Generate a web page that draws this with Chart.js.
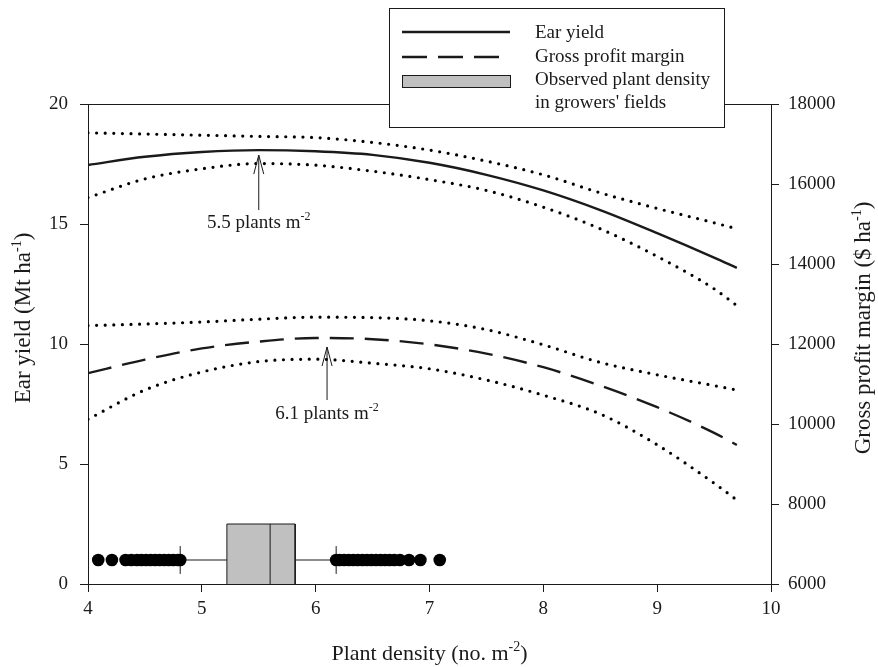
<!DOCTYPE html>
<html>
<head>
<meta charset="utf-8">
<script src="https://cdn.jsdelivr.net/npm/chart.js@4.4.1/dist/chart.umd.min.js"></script>
<style>
  html, body { margin: 0; padding: 0; background: #fff; }
  #wrap { width: 878px; height: 667px; }
</style>
</head>
<body>
<div id="wrap"><canvas id="grafik" width="878" height="667"></canvas></div>
<script>
// data
const density = [4, 4.5, 5, 5.5, 6, 6.5, 7, 7.5, 8, 8.5, 9, 9.5, 9.7];
const earYield = [17.46, 17.8, 18.0, 18.08, 18.03, 17.88, 17.55, 17.05, 16.4, 15.58, 14.62, 13.6, 13.17];
const earYieldUpper = [18.8, 18.75, 18.7, 18.65, 18.6, 18.4, 18.08, 17.62, 17.05, 16.3, 15.65, 15.05, 14.8];
const earYieldLower = [16.1, 16.88, 17.3, 17.52, 17.45, 17.2, 16.85, 16.4, 15.7, 14.8, 13.65, 12.3, 11.6];
const margin = [11270, 11610, 11890, 12060, 12150, 12120, 11990, 11760, 11420, 10960, 10420, 9780, 9475];
const marginUpper = [12460, 12500, 12550, 12620, 12670, 12660, 12580, 12360, 11980, 11540, 11230, 10960, 10850];
const marginLower = [10120, 10850, 11300, 11560, 11620, 11520, 11380, 11100, 10720, 10250, 9480, 8520, 8100];

// observed plant density in growers' fields (box plot)
const boxQ1 = 5.22;
const boxMedian = 5.6;
const boxQ3 = 5.82;
const whiskerLow = 4.81;
const whiskerHigh = 6.18;
const outliersLow = [4.09, 4.21, 4.33, 4.38, 4.43, 4.47, 4.51, 4.55, 4.59, 4.63, 4.67, 4.71, 4.75, 4.79, 4.81];
const outliersHigh = [6.18, 6.21, 6.25, 6.29, 6.33, 6.37, 6.41, 6.45, 6.49, 6.53, 6.57, 6.61, 6.65, 6.69, 6.74, 6.82, 6.92, 7.09];

// optimum densities marked with arrows
const optimumYield = 5.5;
const optimumMargin = 6.1;

const xTicks = [4, 5, 6, 7, 8, 9, 10];
const yTicks = [0, 5, 10, 15, 20];
const y2Ticks = [6000, 8000, 10000, 12000, 14000, 16000, 18000];

// where the box plot sits on the left axis
const boxTop = 2.5;
const whiskerY = 1;
const capHalf = 0.58;

const serif = "'Liberation Serif', 'Times New Roman', serif";
const ink = "#1a1a1a";

const toPoints = (xs, ys) => xs.map((x, i) => ({ x, y: ys[i] }));
const seg = (x1, y1, x2, y2) => [{ x: x1, y: y1 }, { x: x2, y: y2 }];

const solid = { borderColor: ink, borderWidth: 2.4, pointRadius: 0, cubicInterpolationMode: "monotone", fill: false };
const dotted = { borderColor: "#000", borderWidth: 3.2, borderDash: [0, 8.6], borderCapStyle: "round", pointRadius: 0, cubicInterpolationMode: "monotone", fill: false };
const thin = { borderColor: ink, borderWidth: 1, pointRadius: 0, tension: 0, fill: false };

function richText(ctx, parts, x, y, size, align) {
  const supSize = Math.round(size * 0.62);
  let total = 0;
  parts.forEach(([t, sup]) => {
    ctx.font = (sup ? supSize : size) + "px " + serif;
    total += ctx.measureText(t).width;
  });
  let cx = align === "left" ? x : x - total / 2;
  ctx.textAlign = "left";
  ctx.textBaseline = "alphabetic";
  parts.forEach(([t, sup]) => {
    ctx.font = (sup ? supSize : size) + "px " + serif;
    ctx.fillText(t, cx, sup ? y - size * 0.4 : y);
    cx += ctx.measureText(t).width;
  });
}

function arrowUp(ctx, px, tipY, tailY) {
  ctx.beginPath();
  ctx.moveTo(px, tailY);
  ctx.lineTo(px, tipY);
  ctx.moveTo(px - 5, tipY + 19);
  ctx.lineTo(px, tipY);
  ctx.lineTo(px + 5, tipY + 19);
  ctx.stroke();
}

const overlay = {
  id: "overlay",
  afterDraw(chart) {
    const { ctx, chartArea: a, scales } = chart;
    const x = scales.x, y = scales.y, y2 = scales.y2;
    ctx.save();
    ctx.strokeStyle = ink;
    ctx.fillStyle = ink;
    ctx.lineWidth = 1;

    // top frame line
    ctx.beginPath();
    ctx.moveTo(a.left, a.top + 0.5);
    ctx.lineTo(a.right, a.top + 0.5);
    ctx.stroke();

    // arrows to the optima
    const ax1 = x.getPixelForValue(optimumYield);
    const tip1 = y.getPixelForValue(earYield[density.indexOf(optimumYield)]) + 5;
    arrowUp(ctx, ax1, tip1, tip1 + 55);
    richText(ctx, [["5.5 plants m", false], ["-2", true]], ax1, tip1 + 73, 19);

    const ax2 = x.getPixelForValue(optimumMargin);
    const tip2 = y2.getPixelForValue(margin[density.indexOf(6)]) + 9;
    arrowUp(ctx, ax2, tip2, tip2 + 53);
    richText(ctx, [["6.1 plants m", false], ["-2", true]], ax2, tip2 + 72, 19);

    // legend
    ctx.fillStyle = "#fff";
    ctx.fillRect(389, 8, 335, 119);
    ctx.strokeRect(389.5, 8.5, 335, 119);
    ctx.lineWidth = 2.4;
    ctx.beginPath();
    ctx.moveTo(402, 32);
    ctx.lineTo(510, 32);
    ctx.stroke();
    ctx.setLineDash([25, 11]);
    ctx.beginPath();
    ctx.moveTo(402, 57);
    ctx.lineTo(510, 57);
    ctx.stroke();
    ctx.setLineDash([]);
    ctx.lineWidth = 1;
    ctx.fillStyle = "#c0c0c0";
    ctx.fillRect(402, 75, 108, 12);
    ctx.strokeRect(402.5, 75.5, 108, 12);
    ctx.fillStyle = ink;
    ctx.font = "19px " + serif;
    ctx.textAlign = "left";
    ctx.textBaseline = "alphabetic";
    ctx.fillText("Ear yield", 535, 38);
    ctx.fillText("Gross profit margin", 535, 62);
    ctx.fillText("Observed plant density", 535, 85);
    ctx.fillText("in growers' fields", 535, 108);

    // axis titles
    richText(ctx, [["Plant density (no. m", false], ["-2", true], [")", false]], (a.left + a.right) / 2, 660, 22);

    ctx.save();
    ctx.translate(22, 318);
    ctx.rotate(-Math.PI / 2);
    richText(ctx, [["Ear yield (Mt ha", false], ["-1", true], [")", false]], 0, 8, 23);
    ctx.restore();

    ctx.save();
    ctx.translate(862, 328);
    ctx.rotate(-Math.PI / 2);
    richText(ctx, [["Gross profit margin ($ ha", false], ["-1", true], [")", false]], 0, 8, 23);
    ctx.restore();

    ctx.restore();
  }
};

const tickFont = { family: serif, size: 19 };
const axisGrid = { display: true, drawOnChartArea: false, drawTicks: true, tickLength: 8, color: ink, lineWidth: 1 };
const axisBorder = { display: true, color: ink, width: 1 };
const plain = (v) => String(v);

new Chart(document.getElementById("grafik"), {
  type: "line",
  data: {
    datasets: [
      { ...thin, data: seg(whiskerLow, whiskerY, boxQ1, whiskerY), yAxisID: "y", order: 9 },
      { ...thin, data: seg(boxQ3, whiskerY, whiskerHigh, whiskerY), yAxisID: "y", order: 9 },
      { ...thin, data: seg(whiskerLow, whiskerY - capHalf, whiskerLow, whiskerY + capHalf), yAxisID: "y", order: 9 },
      { ...thin, data: seg(whiskerHigh, whiskerY - capHalf, whiskerHigh, whiskerY + capHalf), yAxisID: "y", order: 9 },
      {
        ...thin,
        data: [{ x: boxQ1, y: 0 }, { x: boxQ1, y: boxTop }, { x: boxQ3, y: boxTop }, { x: boxQ3, y: 0 }],
        fill: "origin",
        backgroundColor: "#c0c0c0",
        yAxisID: "y",
        order: 8
      },
      { ...thin, data: seg(boxMedian, 0, boxMedian, boxTop), yAxisID: "y", order: 7 },
      {
        type: "scatter",
        data: outliersLow.concat(outliersHigh).map((v) => ({ x: v, y: whiskerY })),
        pointRadius: 6.3,
        pointBackgroundColor: "#000",
        pointBorderWidth: 0,
        showLine: false,
        yAxisID: "y",
        order: 6
      },
      { ...dotted, data: toPoints(density, earYieldUpper), yAxisID: "y", order: 5 },
      { ...dotted, data: toPoints(density, earYieldLower), yAxisID: "y", order: 5 },
      { ...solid, data: toPoints(density, earYield), yAxisID: "y", order: 4 },
      { ...dotted, data: toPoints(density, marginUpper), yAxisID: "y2", order: 5 },
      { ...dotted, data: toPoints(density, marginLower), yAxisID: "y2", order: 5 },
      { ...solid, borderDash: [24, 11], data: toPoints(density, margin), yAxisID: "y2", order: 4 }
    ]
  },
  options: {
    responsive: false,
    animation: false,
    devicePixelRatio: 1,
    layout: { padding: { top: 104, left: 0, right: 0, bottom: 0 } },
    plugins: { legend: { display: false }, tooltip: { enabled: false } },
    scales: {
      x: {
        type: "linear",
        position: "bottom",
        min: 4,
        max: 10,
        afterBuildTicks: (s) => { s.ticks = xTicks.map((v) => ({ value: v })); },
        ticks: { color: ink, font: tickFont, padding: 6, maxRotation: 0, callback: plain },
        grid: axisGrid,
        border: axisBorder,
        afterFit: (s) => { s.height = 83; }
      },
      y: {
        position: "left",
        min: 0,
        max: 20,
        afterBuildTicks: (s) => { s.ticks = yTicks.map((v) => ({ value: v })); },
        ticks: { color: ink, font: tickFont, padding: 12, callback: plain },
        grid: axisGrid,
        border: axisBorder,
        afterFit: (s) => { s.width = 88; }
      },
      y2: {
        position: "right",
        min: 6000,
        max: 18000,
        afterBuildTicks: (s) => { s.ticks = y2Ticks.map((v) => ({ value: v })); },
        ticks: { color: ink, font: tickFont, padding: 9, callback: plain },
        grid: axisGrid,
        border: axisBorder,
        afterFit: (s) => { s.width = 107; }
      }
    }
  },
  plugins: [overlay]
});
</script>
</body>
</html>
